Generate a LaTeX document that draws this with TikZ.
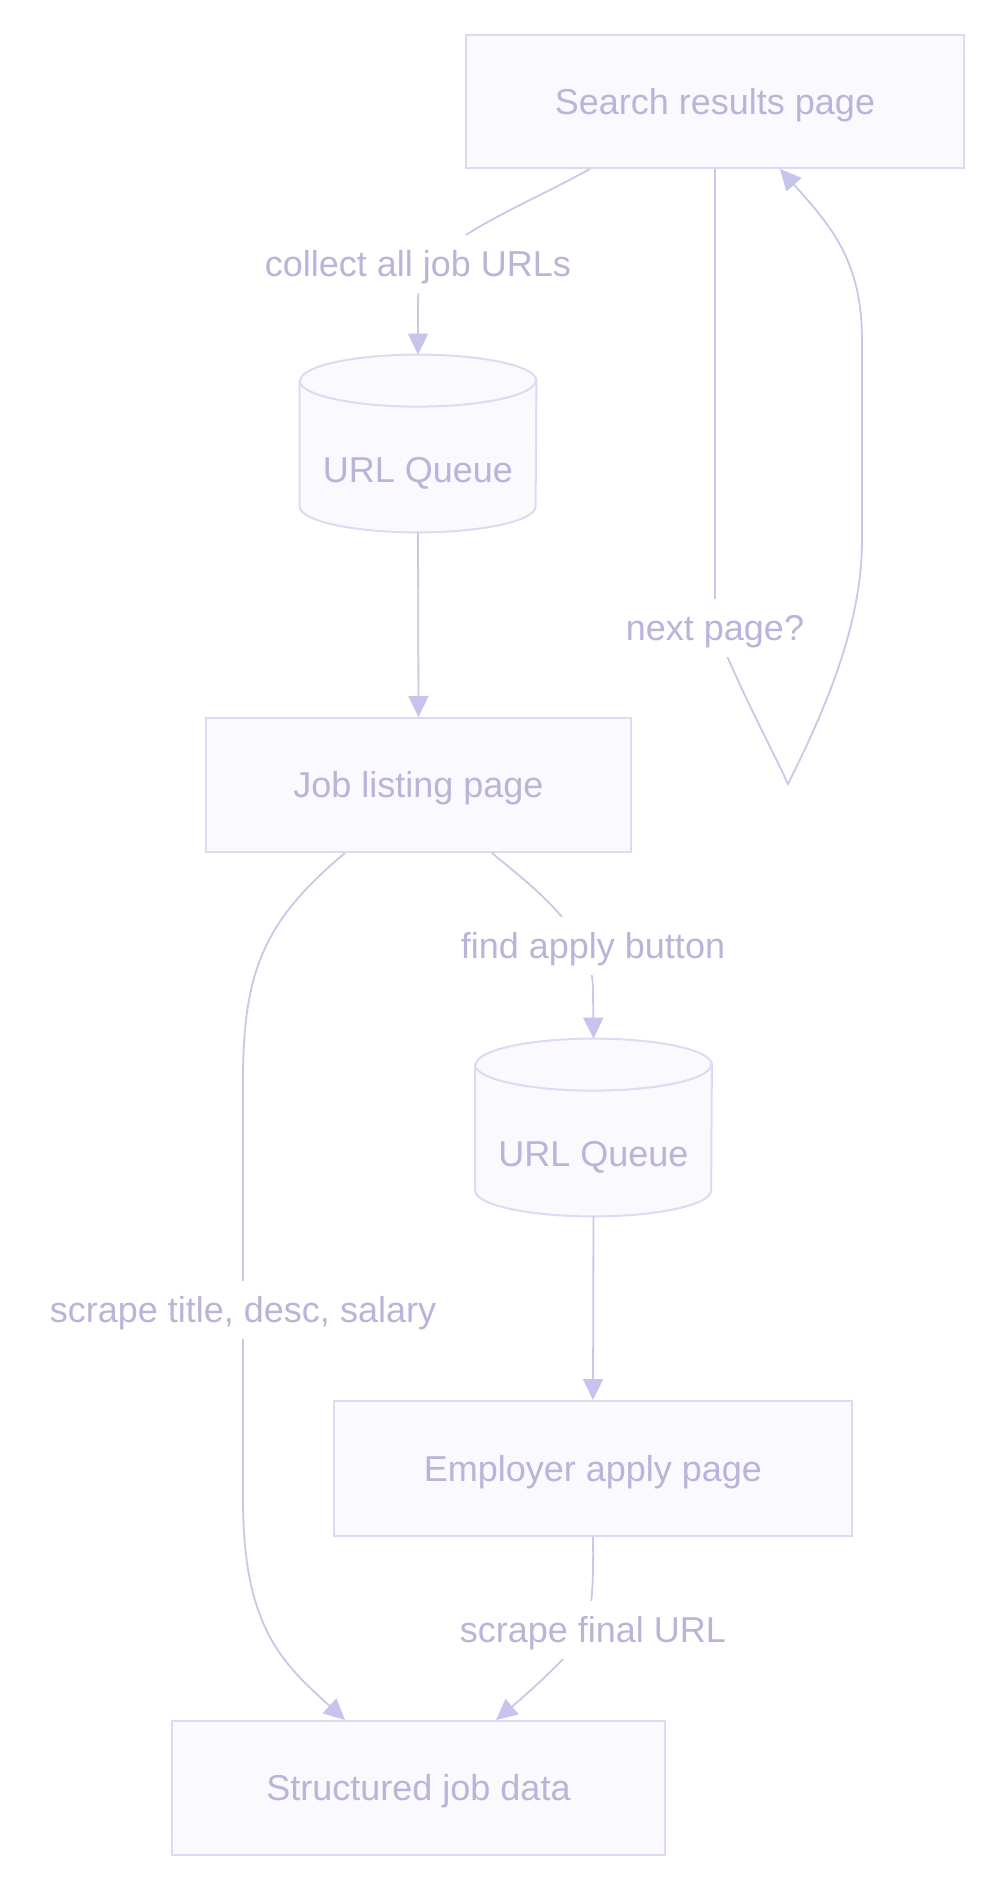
\documentclass[tikz,border=0pt]{standalone}
\usepackage{fontspec}
\setmainfont{Liberation Sans}
\usetikzlibrary{arrows.meta,calc}
\definecolor{boxfill}{RGB}{249,249,254}
\definecolor{boxdraw}{RGB}{220,219,241}
\definecolor{textcol}{RGB}{184,181,217}
\definecolor{linecol}{RGB}{202,200,232}
\definecolor{arrowcol}{RGB}{198,195,236}
\newcommand\mycyl[1]{%
  \path[draw=boxdraw, fill=boxfill, line width=1pt]
    ($(#1.north west)+(0,26)$) -- ($(#1.south west)+(0,-26)$)
    arc[start angle=180,end angle=360,x radius=59pt,y radius=13pt]
    -- ($(#1.north east)+(0,26)$)
    arc[start angle=0,end angle=180,x radius=59pt,y radius=13pt] -- cycle;
  \draw[boxdraw, line width=1pt] ($(#1.north west)+(0,26)$)
    arc[start angle=180,end angle=360,x radius=59pt,y radius=13pt];}
\begin{document}
\begin{tikzpicture}[x=0.5pt,y=-0.5pt,
  txt/.style={text=textcol, font=\fontsize{18}{22}\selectfont, text height=15.6pt, text depth=2.8pt},
  box/.style={txt, draw=boxdraw, fill=boxfill, line width=1pt, inner sep=0pt},
  cylbox/.style={inner sep=0pt, minimum width=118pt, minimum height=88.5pt},
  lbl/.style={txt, fill=white, inner xsep=2pt, inner ysep=5.5pt},
  edge/.style={draw=linecol, line width=0.9pt, -{Triangle[length=10.5pt,width=10pt,color=arrowcol]}}]
\useasboundingbox[fill=white] (0,0) rectangle (1000,1896);

\node[box, minimum width=249pt, minimum height=66.5pt] (sr) at (715,101.5) {Search results page};
\node[cylbox] (q1) at (418,443.5) {};
\mycyl{q1}
\node[txt] (q1t) at ($(q1)+(0,26)$) {URL Queue};
\node[box, minimum width=212.5pt, minimum height=67pt] (jl) at (418.5,785) {Job listing page};
\node[cylbox] (q2) at (593.5,1127.5) {};
\mycyl{q2}
\node[txt] (q2t) at ($(q2)+(0,26)$) {URL Queue};
\node[box, minimum width=259pt, minimum height=67.5pt] (ea) at (593,1468.5) {Employer apply page};
\node[box, minimum width=246.5pt, minimum height=67pt] (sd) at (418.5,1788) {Structured job data};

\coordinate (l1) at (418,264);
\coordinate (l2) at (715,628);
\coordinate (l3) at (593,946);
\coordinate (l4) at (243,1310);
\coordinate (l5) at (593,1630);

\draw[edge] ($(sr.south)+(-125,0)$) .. controls (500,218) and (418,245) .. (418,300)
  -- (q1.north);
\draw[edge] (sr.south) -- (715,560) .. controls (715,600) .. (l2)
  .. controls (745,700) and (770,745) .. (788,784)
  .. controls (830,700) and (862,620) .. (862,540) -- (862,340)
  .. controls (862,260) and (830,225) .. ($(sr.south)+(65,0)$);
\draw[edge] (q1.south) -- (jl.north);
\draw[edge] ($(jl.south)+(73.5,0)$) .. controls (530,885) and (593,930) .. (593,990)
  -- (q2.north);
\draw[edge] ($(jl.south)+(-73.5,0)$) .. controls (265,920) and (243,970) .. (243,1080)
  -- (l4) -- (243,1500) .. controls (243,1630) and (285,1665) .. ($(sd.north)+(-73.5,0)$);
\draw[edge] (q2.south) -- (ea.north);
\draw[edge] (ea.south) .. controls (594,1600) and (590,1625) .. (580,1640)
  .. controls (560,1665) and (520,1700) .. ($(sd.north)+(77.5,0)$);

\node[lbl] (t1) at (l1) {collect all job URLs};
\node[lbl] (t2) at (l2) {next page?};
\node[lbl] (t3) at (l3) {find apply button};
\node[lbl] (t4) at (l4) {scrape title, desc, salary};
\node[lbl] (t5) at (l5) {scrape final URL};
\end{tikzpicture}
\end{document}
